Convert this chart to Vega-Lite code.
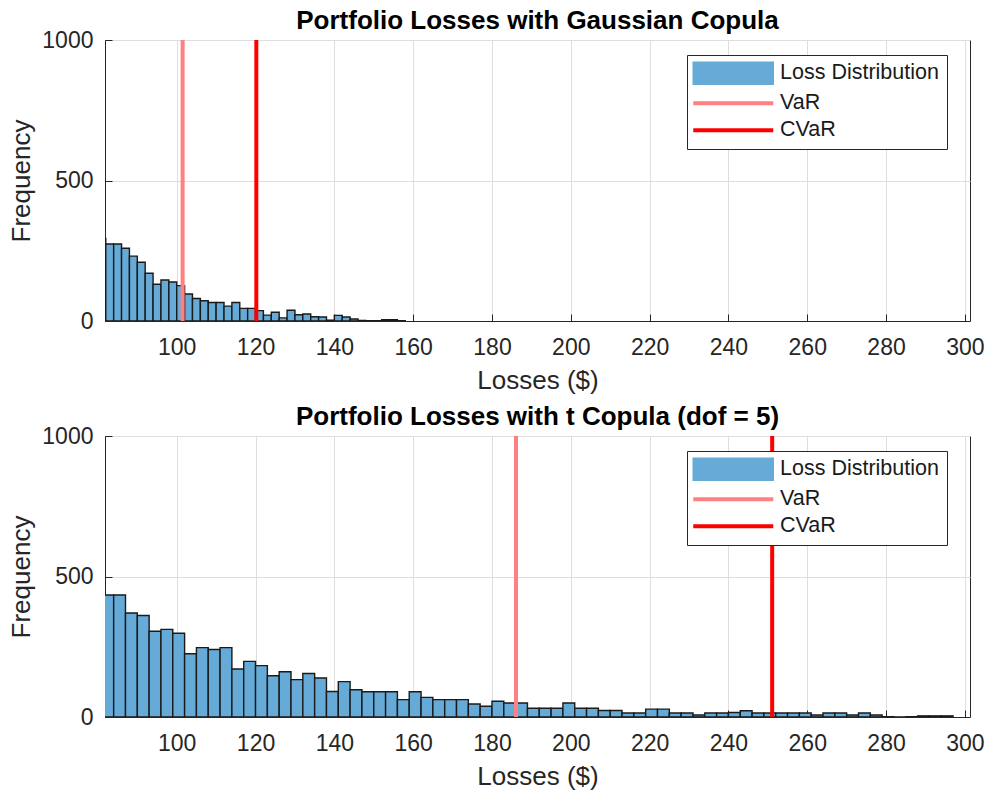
{
  "$schema": "https://vega.github.io/schema/vega-lite/v6.json",
  "background": "white",
  "padding": {"left": 8, "top": 7, "right": 10, "bottom": 0},
  "spacing": 9,
  "config": {
    "font": "Liberation Sans",
    "view": {"stroke": "#262626", "strokeWidth": 1},
    "axis": {
      "labelFont": "Liberation Sans", "labelFontSize": 23, "labelColor": "#262626",
      "titleFont": "Liberation Sans", "titleFontSize": 26, "titleFontWeight": "normal", "titleColor": "#262626",
      "domainColor": "#262626", "ticks": true, "tickSize": -7, "tickColor": "#262626", "tickWidth": 1,
      "grid": true, "gridColor": "#dedede", "gridOpacity": 1,
      "labelFlush": false, "labelOverlap": false
    },
    "axisX": {"labelPadding": 22, "titlePadding": 8},
    "axisY": {"labelPadding": 19, "titlePadding": 7},
    "title": {"font": "Liberation Sans", "fontSize": 26, "fontWeight": "bold", "color": "#000000", "anchor": "middle", "offset": -5},
    "legend": {
      "title": null, "orient": "none", "legendX": 582, "legendY": 15, "direction": "vertical",
      "padding": 7.5, "strokeColor": "#262626", "fillColor": "white",
      "symbolSize": 400, "symbolOffset": 28, "labelOffset": 36,
      "labelFont": "Liberation Sans", "labelFontSize": 21.5, "labelColor": "#1a1a1a", "rowPadding": 4, "labelLimit": 400
    }
  },
  "resolve": {"scale": {"color": "independent"}, "legend": {"color": "independent"}},
  "datasets": {
    "gauss_bins": [
      {"bin_start": 80, "bin_end": 82, "count": 294, "series": "Loss Distribution"},
      {"bin_start": 82, "bin_end": 84, "count": 274, "series": "Loss Distribution"},
      {"bin_start": 84, "bin_end": 86, "count": 274, "series": "Loss Distribution"},
      {"bin_start": 86, "bin_end": 88, "count": 259, "series": "Loss Distribution"},
      {"bin_start": 88, "bin_end": 90, "count": 231, "series": "Loss Distribution"},
      {"bin_start": 90, "bin_end": 92, "count": 209, "series": "Loss Distribution"},
      {"bin_start": 92, "bin_end": 94, "count": 170, "series": "Loss Distribution"},
      {"bin_start": 94, "bin_end": 96, "count": 131, "series": "Loss Distribution"},
      {"bin_start": 96, "bin_end": 98, "count": 146, "series": "Loss Distribution"},
      {"bin_start": 98, "bin_end": 100, "count": 139, "series": "Loss Distribution"},
      {"bin_start": 100, "bin_end": 102, "count": 126, "series": "Loss Distribution"},
      {"bin_start": 102, "bin_end": 104, "count": 96, "series": "Loss Distribution"},
      {"bin_start": 104, "bin_end": 106, "count": 80, "series": "Loss Distribution"},
      {"bin_start": 106, "bin_end": 108, "count": 72, "series": "Loss Distribution"},
      {"bin_start": 108, "bin_end": 110, "count": 66, "series": "Loss Distribution"},
      {"bin_start": 110, "bin_end": 112, "count": 66, "series": "Loss Distribution"},
      {"bin_start": 112, "bin_end": 114, "count": 53, "series": "Loss Distribution"},
      {"bin_start": 114, "bin_end": 116, "count": 66, "series": "Loss Distribution"},
      {"bin_start": 116, "bin_end": 118, "count": 45, "series": "Loss Distribution"},
      {"bin_start": 118, "bin_end": 120, "count": 45, "series": "Loss Distribution"},
      {"bin_start": 120, "bin_end": 122, "count": 37, "series": "Loss Distribution"},
      {"bin_start": 122, "bin_end": 124, "count": 21, "series": "Loss Distribution"},
      {"bin_start": 124, "bin_end": 126, "count": 31, "series": "Loss Distribution"},
      {"bin_start": 126, "bin_end": 128, "count": 11, "series": "Loss Distribution"},
      {"bin_start": 128, "bin_end": 130, "count": 38, "series": "Loss Distribution"},
      {"bin_start": 130, "bin_end": 132, "count": 22, "series": "Loss Distribution"},
      {"bin_start": 132, "bin_end": 134, "count": 25, "series": "Loss Distribution"},
      {"bin_start": 134, "bin_end": 136, "count": 15, "series": "Loss Distribution"},
      {"bin_start": 136, "bin_end": 138, "count": 14, "series": "Loss Distribution"},
      {"bin_start": 138, "bin_end": 140, "count": 3, "series": "Loss Distribution"},
      {"bin_start": 140, "bin_end": 142, "count": 20, "series": "Loss Distribution"},
      {"bin_start": 142, "bin_end": 144, "count": 14, "series": "Loss Distribution"},
      {"bin_start": 144, "bin_end": 146, "count": 7, "series": "Loss Distribution"},
      {"bin_start": 146, "bin_end": 148, "count": 2, "series": "Loss Distribution"},
      {"bin_start": 148, "bin_end": 150, "count": 1, "series": "Loss Distribution"},
      {"bin_start": 150, "bin_end": 152, "count": 1, "series": "Loss Distribution"},
      {"bin_start": 152, "bin_end": 154, "count": 5, "series": "Loss Distribution"},
      {"bin_start": 154, "bin_end": 156, "count": 5, "series": "Loss Distribution"},
      {"bin_start": 156, "bin_end": 158, "count": 1, "series": "Loss Distribution"}
    ],
    "gauss_lines": [
      {"series": "VaR", "value": 101.5},
      {"series": "CVaR", "value": 120.2}
    ],
    "t_bins": [
      {"bin_start": 81, "bin_end": 84, "count": 434, "series": "Loss Distribution"},
      {"bin_start": 84, "bin_end": 87, "count": 434, "series": "Loss Distribution"},
      {"bin_start": 87, "bin_end": 90, "count": 370, "series": "Loss Distribution"},
      {"bin_start": 90, "bin_end": 93, "count": 361, "series": "Loss Distribution"},
      {"bin_start": 93, "bin_end": 96, "count": 305, "series": "Loss Distribution"},
      {"bin_start": 96, "bin_end": 99, "count": 312, "series": "Loss Distribution"},
      {"bin_start": 99, "bin_end": 102, "count": 298, "series": "Loss Distribution"},
      {"bin_start": 102, "bin_end": 105, "count": 225, "series": "Loss Distribution"},
      {"bin_start": 105, "bin_end": 108, "count": 247, "series": "Loss Distribution"},
      {"bin_start": 108, "bin_end": 111, "count": 240, "series": "Loss Distribution"},
      {"bin_start": 111, "bin_end": 114, "count": 247, "series": "Loss Distribution"},
      {"bin_start": 114, "bin_end": 117, "count": 171, "series": "Loss Distribution"},
      {"bin_start": 117, "bin_end": 120, "count": 198, "series": "Loss Distribution"},
      {"bin_start": 120, "bin_end": 123, "count": 183, "series": "Loss Distribution"},
      {"bin_start": 123, "bin_end": 126, "count": 147, "series": "Loss Distribution"},
      {"bin_start": 126, "bin_end": 129, "count": 161, "series": "Loss Distribution"},
      {"bin_start": 129, "bin_end": 132, "count": 133, "series": "Loss Distribution"},
      {"bin_start": 132, "bin_end": 135, "count": 155, "series": "Loss Distribution"},
      {"bin_start": 135, "bin_end": 138, "count": 139, "series": "Loss Distribution"},
      {"bin_start": 138, "bin_end": 141, "count": 91, "series": "Loss Distribution"},
      {"bin_start": 141, "bin_end": 144, "count": 126, "series": "Loss Distribution"},
      {"bin_start": 144, "bin_end": 147, "count": 97, "series": "Loss Distribution"},
      {"bin_start": 147, "bin_end": 150, "count": 90, "series": "Loss Distribution"},
      {"bin_start": 150, "bin_end": 153, "count": 90, "series": "Loss Distribution"},
      {"bin_start": 153, "bin_end": 156, "count": 90, "series": "Loss Distribution"},
      {"bin_start": 156, "bin_end": 159, "count": 62, "series": "Loss Distribution"},
      {"bin_start": 159, "bin_end": 162, "count": 90, "series": "Loss Distribution"},
      {"bin_start": 162, "bin_end": 165, "count": 70, "series": "Loss Distribution"},
      {"bin_start": 165, "bin_end": 168, "count": 62, "series": "Loss Distribution"},
      {"bin_start": 168, "bin_end": 171, "count": 62, "series": "Loss Distribution"},
      {"bin_start": 171, "bin_end": 174, "count": 62, "series": "Loss Distribution"},
      {"bin_start": 174, "bin_end": 177, "count": 46, "series": "Loss Distribution"},
      {"bin_start": 177, "bin_end": 180, "count": 38, "series": "Loss Distribution"},
      {"bin_start": 180, "bin_end": 183, "count": 56, "series": "Loss Distribution"},
      {"bin_start": 183, "bin_end": 186, "count": 50, "series": "Loss Distribution"},
      {"bin_start": 186, "bin_end": 189, "count": 50, "series": "Loss Distribution"},
      {"bin_start": 189, "bin_end": 192, "count": 31, "series": "Loss Distribution"},
      {"bin_start": 192, "bin_end": 195, "count": 31, "series": "Loss Distribution"},
      {"bin_start": 195, "bin_end": 198, "count": 31, "series": "Loss Distribution"},
      {"bin_start": 198, "bin_end": 201, "count": 50, "series": "Loss Distribution"},
      {"bin_start": 201, "bin_end": 204, "count": 31, "series": "Loss Distribution"},
      {"bin_start": 204, "bin_end": 207, "count": 31, "series": "Loss Distribution"},
      {"bin_start": 207, "bin_end": 210, "count": 23, "series": "Loss Distribution"},
      {"bin_start": 210, "bin_end": 213, "count": 23, "series": "Loss Distribution"},
      {"bin_start": 213, "bin_end": 216, "count": 14, "series": "Loss Distribution"},
      {"bin_start": 216, "bin_end": 219, "count": 14, "series": "Loss Distribution"},
      {"bin_start": 219, "bin_end": 222, "count": 28, "series": "Loss Distribution"},
      {"bin_start": 222, "bin_end": 225, "count": 28, "series": "Loss Distribution"},
      {"bin_start": 225, "bin_end": 228, "count": 14, "series": "Loss Distribution"},
      {"bin_start": 228, "bin_end": 231, "count": 14, "series": "Loss Distribution"},
      {"bin_start": 231, "bin_end": 234, "count": 7, "series": "Loss Distribution"},
      {"bin_start": 234, "bin_end": 237, "count": 14, "series": "Loss Distribution"},
      {"bin_start": 237, "bin_end": 240, "count": 14, "series": "Loss Distribution"},
      {"bin_start": 240, "bin_end": 243, "count": 16, "series": "Loss Distribution"},
      {"bin_start": 243, "bin_end": 246, "count": 22, "series": "Loss Distribution"},
      {"bin_start": 246, "bin_end": 249, "count": 14, "series": "Loss Distribution"},
      {"bin_start": 249, "bin_end": 252, "count": 14, "series": "Loss Distribution"},
      {"bin_start": 252, "bin_end": 255, "count": 14, "series": "Loss Distribution"},
      {"bin_start": 255, "bin_end": 258, "count": 14, "series": "Loss Distribution"},
      {"bin_start": 258, "bin_end": 261, "count": 14, "series": "Loss Distribution"},
      {"bin_start": 261, "bin_end": 264, "count": 7, "series": "Loss Distribution"},
      {"bin_start": 264, "bin_end": 267, "count": 14, "series": "Loss Distribution"},
      {"bin_start": 267, "bin_end": 270, "count": 14, "series": "Loss Distribution"},
      {"bin_start": 270, "bin_end": 273, "count": 7, "series": "Loss Distribution"},
      {"bin_start": 273, "bin_end": 276, "count": 14, "series": "Loss Distribution"},
      {"bin_start": 276, "bin_end": 279, "count": 7, "series": "Loss Distribution"},
      {"bin_start": 279, "bin_end": 282, "count": 1, "series": "Loss Distribution"},
      {"bin_start": 282, "bin_end": 285, "count": 0, "series": "Loss Distribution"},
      {"bin_start": 285, "bin_end": 288, "count": 1, "series": "Loss Distribution"},
      {"bin_start": 288, "bin_end": 291, "count": 4, "series": "Loss Distribution"},
      {"bin_start": 291, "bin_end": 294, "count": 4, "series": "Loss Distribution"},
      {"bin_start": 294, "bin_end": 297, "count": 4, "series": "Loss Distribution"}
    ],
    "t_lines": [
      {"series": "VaR", "value": 186.1},
      {"series": "CVaR", "value": 251.1}
    ]
  },
  "vconcat": [
    {
      "width": 865, "height": 281,
      "title": "Portfolio Losses with Gaussian Copula",
      "layer": [
        {
          "data": {"name": "gauss_bins"},
          "mark": {"type": "bar", "clip": true, "stroke": "#1a1a1a", "strokeWidth": 1.4, "opacity": 1},
          "encoding": {
            "x": {"field": "bin_start", "type": "quantitative", "scale": {"domain": [81.8, 301.3], "nice": false, "zero": false},
                  "axis": {"title": "Losses ($)", "values": [100, 120, 140, 160, 180, 200, 220, 240, 260, 280, 300]}},
            "x2": {"field": "bin_end"},
            "y": {"field": "count", "type": "quantitative", "scale": {"domain": [0, 1000], "nice": false},
                  "axis": {"title": "Frequency", "values": [0, 500, 1000], "format": "d"}},
            "y2": {"datum": 0},
            "color": {"field": "series", "type": "nominal",
              "scale": {"domain": ["Loss Distribution", "VaR", "CVaR"], "range": ["#66AAD7", "#FF8080", "#FF0000"]},
              "legend": {
                "symbolType": {"expr": "datum.value === 'Loss Distribution' ? 'M-4,-1.1H4V1.1H-4Z' : 'M-4,0H4'"},
                "symbolStrokeWidth": {"expr": "datum.value === 'Loss Distribution' ? 1.5 : 4"}
              }
            }
          }
        },
        {
          "data": {"name": "gauss_lines"},
          "mark": {"type": "rule", "strokeWidth": 4},
          "encoding": {
            "x": {"field": "value", "type": "quantitative"},
            "color": {"field": "series", "type": "nominal",
              "legend": {
                "symbolType": {"expr": "datum.value === 'Loss Distribution' ? 'M-4,-1.1H4V1.1H-4Z' : 'M-4,0H4'"},
                "symbolStrokeWidth": {"expr": "datum.value === 'Loss Distribution' ? 1.5 : 4"}
              }
            }
          }
        }
      ]
    },
    {
      "width": 865, "height": 281,
      "title": "Portfolio Losses with t Copula (dof = 5)",
      "layer": [
        {
          "data": {"name": "t_bins"},
          "mark": {"type": "bar", "clip": true, "stroke": "#1a1a1a", "strokeWidth": 1.4, "opacity": 1},
          "encoding": {
            "x": {"field": "bin_start", "type": "quantitative", "scale": {"domain": [81.8, 301.3], "nice": false, "zero": false},
                  "axis": {"title": "Losses ($)", "values": [100, 120, 140, 160, 180, 200, 220, 240, 260, 280, 300]}},
            "x2": {"field": "bin_end"},
            "y": {"field": "count", "type": "quantitative", "scale": {"domain": [0, 1000], "nice": false},
                  "axis": {"title": "Frequency", "values": [0, 500, 1000], "format": "d"}},
            "y2": {"datum": 0},
            "color": {"field": "series", "type": "nominal",
              "scale": {"domain": ["Loss Distribution", "VaR", "CVaR"], "range": ["#66AAD7", "#FF8080", "#FF0000"]},
              "legend": {
                "symbolType": {"expr": "datum.value === 'Loss Distribution' ? 'M-4,-1.1H4V1.1H-4Z' : 'M-4,0H4'"},
                "symbolStrokeWidth": {"expr": "datum.value === 'Loss Distribution' ? 1.5 : 4"}
              }
            }
          }
        },
        {
          "data": {"name": "t_lines"},
          "mark": {"type": "rule", "strokeWidth": 4},
          "encoding": {
            "x": {"field": "value", "type": "quantitative"},
            "color": {"field": "series", "type": "nominal",
              "legend": {
                "symbolType": {"expr": "datum.value === 'Loss Distribution' ? 'M-4,-1.1H4V1.1H-4Z' : 'M-4,0H4'"},
                "symbolStrokeWidth": {"expr": "datum.value === 'Loss Distribution' ? 1.5 : 4"}
              }
            }
          }
        }
      ]
    }
  ]
}
